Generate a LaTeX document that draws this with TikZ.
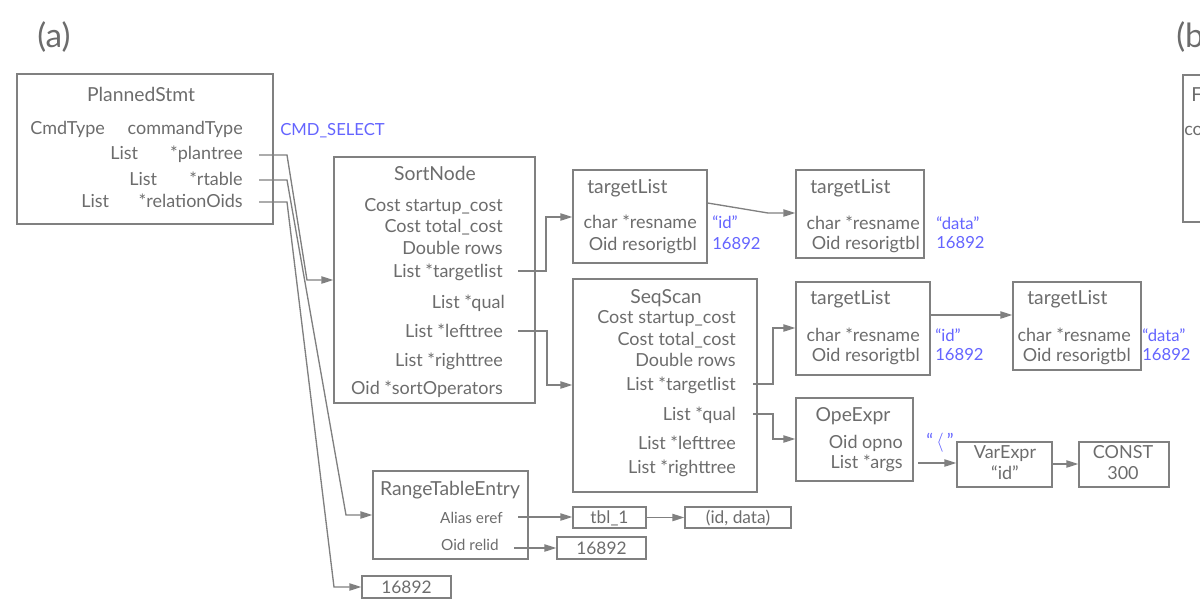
\documentclass[tikz,border=0pt]{standalone}
\usepackage{fontspec}
\setmainfont{Lato}
\usetikzlibrary{arrows.meta,fit}
\definecolor{fg}{RGB}{108,108,108}
\definecolor{ln}{RGB}{128,128,128}
\definecolor{bl}{RGB}{100,100,255}
\begin{document}
\begin{tikzpicture}[x=0.75pt,y=-0.75pt,
  box/.style={draw=ln, line width=1pt, inner sep=0pt},
  t/.style={text=fg, inner sep=0pt, yshift=-2.2pt, font=\fontsize{13.5}{15}\selectfont},
  ttl/.style={text=fg, inner sep=0pt, yshift=-2.4pt, font=\fontsize{14.5}{16}\selectfont},
  ts/.style={text=fg, inner sep=0pt, yshift=-2pt, font=\fontsize{11.5}{13}\selectfont},
  tb/.style={text=fg, inner sep=0pt, yshift=-2pt, font=\fontsize{13}{14}\selectfont},
  v/.style={text=bl, inner sep=0pt, yshift=-2pt, font=\fontsize{12.5}{14}\selectfont},
  plab/.style={text=fg, inner sep=0pt, anchor=mid west, yshift=-3pt, font=\fontsize{25}{27}\selectfont},
  conn/.style={draw=ln, line width=1pt, -{Triangle[length=9pt,width=5.5pt]}},
]
\useasboundingbox (0,0) rectangle (1200,604);

% panel labels
\node[plab] (lbla) at (37,40) {(a)};
\node[plab] (lblb) at (1176,40) {(b};

% panel (b) clipped box
\node[box, fit={(1183,75)(1215,222)}] (bbox) {};
\node[ttl, anchor=mid west] (bt) at (1191,95) {F};
\node[t, anchor=mid west] (bc) at (1184,129) {co};

% PlannedStmt
\node[box, fit={(17,74)(273,224)}] (ps) {};
\node[ttl, anchor=mid] (psT) at (141,95) {PlannedStmt};
\node[t, anchor=mid west] (ps1a) at (30,128) {CmdType};
\node[t, anchor=mid east] (ps1b) at (243,128) {commandType};
\node[t, anchor=mid west] (ps2a) at (110,153) {List};
\node[t, anchor=mid east] (ps2b) at (243,153) {*plantree};
\node[t, anchor=mid west] (ps3a) at (129,179) {List};
\node[t, anchor=mid east] (ps3b) at (243,179) {*rtable};
\node[t, anchor=mid west] (ps4a) at (81,201) {List};
\node[t, anchor=mid east] (ps4b) at (243,201) {*relationOids};
\node[v, anchor=mid west] (cmdsel) at (280,129) {CMD\_SELECT};

% SortNode
\node[box, fit={(334,157)(535,403)}] (sort) {};
\node[ttl, anchor=mid] (sortT) at (435,174) {SortNode};
\node[t, anchor=mid east] (s1) at (503,205) {Cost startup\_cost};
\node[t, anchor=mid east] (s2) at (503,226) {Cost total\_cost};
\node[t, anchor=mid east] (s3) at (503,248) {Double rows};
\node[t, anchor=mid east] (s4) at (503,271) {List *targetlist};
\node[t, anchor=mid east] (s5) at (505,302) {List *qual};
\node[t, anchor=mid east] (s6) at (503,331) {List *lefttree};
\node[t, anchor=mid east] (s7) at (503,360) {List *righttree};
\node[t, anchor=mid east] (s8) at (503,388) {Oid *sortOperators};

% targetList 1
\node[box, fit={(573,170)(707,263)}] (tl1) {};
\node[ttl, anchor=mid west] (tl1T) at (587,187) {targetList};
\node[t, anchor=mid east] (tl1a) at (697,222) {char *resname};
\node[t, anchor=mid east] (tl1b) at (697,244) {Oid resorigtbl};
\node[v, anchor=mid west] (tl1v1) at (712,222) {“id”};
\node[v, anchor=mid west] (tl1v2) at (712,243) {16892};

% targetList 2
\node[box, fit={(796,170)(924,258)}] (tl2) {};
\node[ttl, anchor=mid west] (tl2T) at (810,187) {targetList};
\node[t, anchor=mid east] (tl2a) at (920,223) {char *resname};
\node[t, anchor=mid east] (tl2b) at (920,243) {Oid resorigtbl};
\node[v, anchor=mid west] (tl2v1) at (936,223) {“data”};
\node[v, anchor=mid west] (tl2v2) at (936,242) {16892};

% targetList 3
\node[box, fit={(796,282)(930,375)}] (tl3) {};
\node[ttl, anchor=mid west] (tl3T) at (810,298) {targetList};
\node[t, anchor=mid east] (tl3a) at (920,335) {char *resname};
\node[t, anchor=mid east] (tl3b) at (920,355) {Oid resorigtbl};
\node[v, anchor=mid west] (tl3v1) at (935,335) {“id”};
\node[v, anchor=mid west] (tl3v2) at (935,354) {16892};

% targetList 4
\node[box, fit={(1013,282)(1141,370)}] (tl4) {};
\node[ttl, anchor=mid west] (tl4T) at (1027,298) {targetList};
\node[t, anchor=mid east] (tl4a) at (1131,335) {char *resname};
\node[t, anchor=mid east] (tl4b) at (1131,355) {Oid resorigtbl};
\node[v, anchor=mid west] (tl4v1) at (1142,335) {“data”};
\node[v, anchor=mid west] (tl4v2) at (1142,354) {16892};

% SeqScan
\node[box, fit={(573,279)(757,492)}] (seq) {};
\node[ttl, anchor=mid] (seqT) at (666,297) {SeqScan};
\node[t, anchor=mid east] (q1) at (736,317) {Cost startup\_cost};
\node[t, anchor=mid east] (q2) at (736,339) {Cost total\_cost};
\node[t, anchor=mid east] (q3) at (736,360) {Double rows};
\node[t, anchor=mid east] (q4) at (736,384) {List *targetlist};
\node[t, anchor=mid east] (q5) at (736,414) {List *qual};
\node[t, anchor=mid east] (q6) at (736,443) {List *lefttree};
\node[t, anchor=mid east] (q7) at (736,467) {List *righttree};

% OpeExpr
\node[box, fit={(796,398)(913,481)}] (ope) {};
\node[ttl, anchor=mid] (opeT) at (853,415) {OpeExpr};
\node[t, anchor=mid east] (o1) at (903,442) {Oid opno};
\node[t, anchor=mid east] (o2) at (903,462) {List *args};
\node[v, anchor=mid, font=\fontsize{14}{16}\selectfont] (opv) at (940,441) {“\,$\langle$\,”};

% VarExpr
\node[box, fit={(957,442)(1052,487)}] (var) {};
\node[t, anchor=mid] (varT) at (1005,452) {VarExpr};
\node[t, anchor=mid] (varV) at (1005,473) {“id”};

% CONST
\node[box, fit={(1079,442)(1169,487)}] (cst) {};
\node[t, anchor=mid] (cstT) at (1123,452) {CONST};
\node[t, anchor=mid] (cstV) at (1123,473) {300};

% RangeTableEntry
\node[box, fit={(373,471)(528,559)}] (rte) {};
\node[ttl, anchor=mid] (rteT) at (450,489) {RangeTableEntry};
\node[ts, anchor=mid east] (r1) at (503,517) {Alias eref};
\node[ts, anchor=mid east] (r2) at (499,544) {Oid relid};

% small value boxes
\node[box, fit={(573,507)(646,528)}] (tbl) {};
\node[tb, anchor=mid] (tblT) at (tbl.center) {tbl\_1};
\node[box, fit={(685,507)(791,528)}] (idd) {};
\node[tb, anchor=mid] (iddT) at (idd.center) {(id, data)};
\node[box, fit={(557,537)(646,559)}] (relb) {};
\node[tb, anchor=mid] (relbT) at (relb.center) {16892};
\node[box, fit={(362,576)(451,598)}] (rel) {};
\node[tb, anchor=mid] (relT) at (rel.center) {16892};

% connector start points
\coordinate (cp1) at (259,155);
\coordinate (cp2) at (259,180);
\coordinate (cp3) at (259,202);
\coordinate (cs1) at (518,271);
\coordinate (cs2) at (518,331);
\coordinate (cq1) at (753,384);
\coordinate (cq2) at (753,414);
\coordinate (co1) at (918,463);
\coordinate (cr1) at (518,517);
\coordinate (cr2) at (514,548);

% connectors
\draw[conn] (cp1) -- (287,155) -- (307,280) -- (sort.west |- 0,280);
\draw[conn] (cp2) -- (287,180) -- (346,515) -- (rte.west |- 0,515);
\draw[conn] (cp3) -- (287,202) -- (334,587) -- (rel.west |- 0,587);
\draw[conn] (cs1) -- (546,271) -- (546,217) -- (tl1.west |- 0,217);
\draw[conn] (cs2) -- (547,331) -- (547,385) -- (seq.west |- 0,385);
\draw[conn] (tl1.east |- 0,203) -- (768,213) -- (tl2.west |- 0,213);
\draw[conn] (tl3.east |- 0,315) -- (tl4.west |- 0,315);
\draw[conn] (cq1) -- (773,384) -- (773,328) -- (tl3.west |- 0,328);
\draw[conn] (cq2) -- (773,414) -- (773,439) -- (ope.west |- 0,439);
\draw[conn] (co1) -- (var.west |- 0,463);
\draw[conn] (var.east |- 0,464) -- (cst.west |- 0,464);
\draw[conn] (cr1) -- (tbl.west |- 0,517);
\draw[conn] (tbl.east) -- (idd.west);
\draw[conn] (cr2) -- (relb.west |- 0,548);
\end{tikzpicture}
\end{document}
